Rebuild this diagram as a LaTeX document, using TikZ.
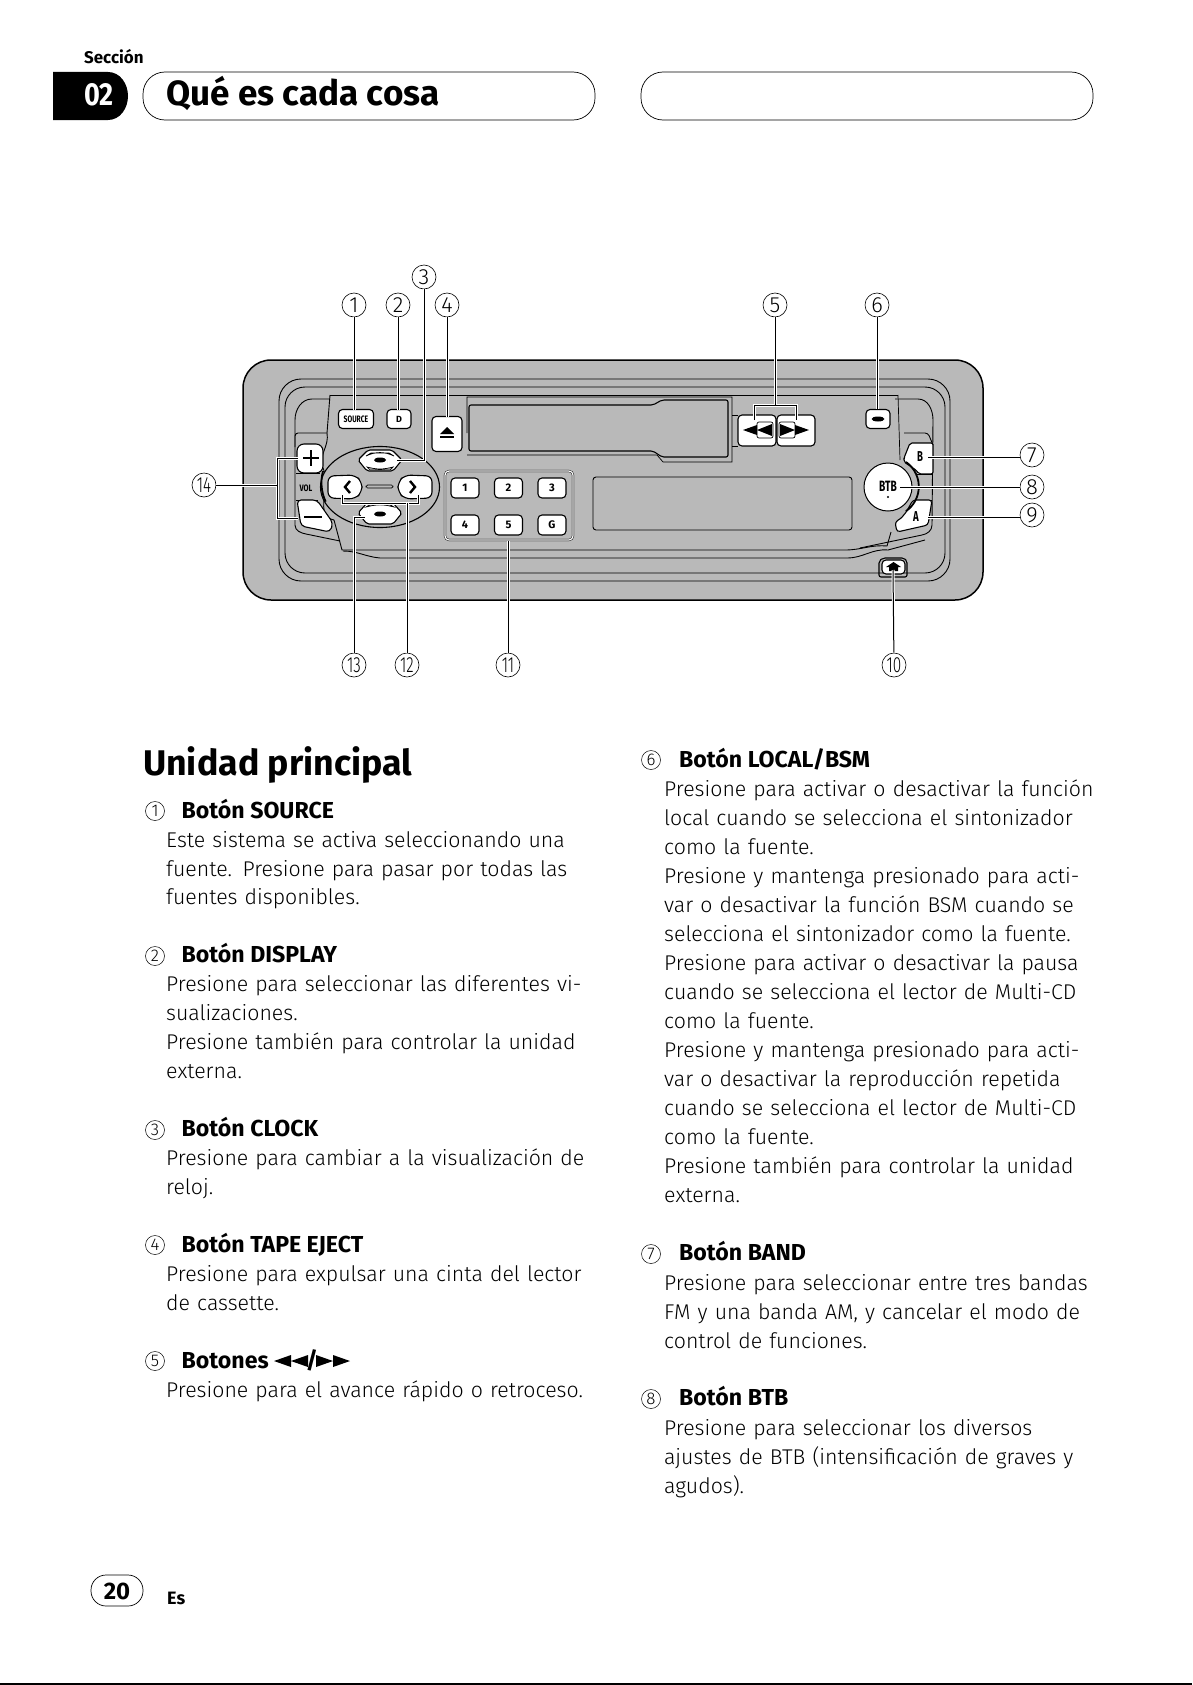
\documentclass[tikz,border=0pt]{standalone}
\usepackage{fontspec}
\setmainfont{Fira Sans Light}[BoldFont=Fira Sans Bold]
\definecolor{panelgray}{gray}{0.725}
\def\nn#1{\scalebox{.7}[1]{#1}}
\tikzset{
	callout/.style={draw, circle, line width=.6bp, minimum size=24bp, inner sep=0pt, fill=white, font=\fontsize{22}{22}\selectfont},
	smallnum/.style={draw, circle, line width=.5bp, minimum size=19bp, inner sep=0pt, font=\fontsize{17}{17}\selectfont},
	keybtn/.style={draw, fill=white, rounded corners=4bp, line width=1.1bp, inner sep=0pt, font=\fontsize{9}{9}\selectfont\bfseries},
	presetbtn/.style={keybtn, minimum width=28bp, minimum height=20bp, font=\fontsize{11}{11}\selectfont\bfseries},
	lead/.style={line width=1bp, preaction={draw=white, line width=3bp}},
	frameline/.style={line width=.9bp},
	hexbtn/.style={draw, fill=white, line width=1.1bp, rounded corners=2bp},
	headtxt/.style={anchor=base west, inner sep=0pt, font=\fontsize{23.2}{26}\selectfont\bfseries},
	bodytxt/.style={anchor=base west, inner sep=0pt, text width=470bp, align=left, font=\fontsize{21.4}{29.1}\selectfont},
	pill/.style={draw, line width=.7bp, rounded corners=22bp}
}
\begin{document}
\begin{tikzpicture}[x=1bp, y=-1bp, node distance=43.5bp]
				\useasboundingbox (0,0) rectangle (1192,1685);
				\node[anchor=base west, inner sep=0pt, font=\fontsize{17}{17}\selectfont\bfseries] (seccion) at (84,64) {Sección};
				\fill (53,72) -- (108,72) to[out=0, in=90] (128,96) to[out=-90, in=0] (108,120) -- (53,120) -- cycle;
				\node[text=white, font=\fontsize{32}{32}\selectfont\bfseries, inner sep=0pt] (secnum) at (99,95) {\scalebox{.85}[1]{02}};
				\draw[pill] (143,72) rectangle (595,120);
				\draw[pill] (641,72) rectangle (1093,120);
				\node[anchor=base west, inner sep=0pt, font=\fontsize{35.2}{34}\selectfont\bfseries] (title) at (166,105) {Qué es cada cosa};
				\draw[line width=1.5bp, fill=panelgray, rounded corners=28bp] (243,360) rectangle (983,600);
				\draw[frameline, rounded corners=22bp] (279,379) rectangle (950,581);
				\draw[frameline, rounded corners=20bp] (285,387) rectangle (945,573);
				\draw[frameline] (330,399) -- (312,399) to[out=180, in=90] (295,420) -- (295,525) to[out=-90, in=170] (306,534) -- (340,541);
				\draw[frameline] (895,399) -- (918,399) to[out=0, in=90] (933,420) -- (932,525) to[out=-90, in=10] (922,535) -- (860,548);
				\draw[line width=.7bp] (330,395) -- (898,395);
				\draw[frameline] (330,395) -- (327,433) to[out=-80, in=100] (322,466) to[out=-60, in=170] (334,520) -- (342,550) -- (845,550) to[out=0, in=175] (887,546) -- (891,532);
				\draw[frameline] (343,551) to[out=0, in=175] (380,558) -- (847,558) to[out=0, in=175] (888,550) -- (925,540);
				\draw[line width=.7bp] (898,395) -- (900,460);
				\draw[frameline, rounded corners=3bp] (295,447) -- (295,433) -- (327,433);
				\draw[frameline, rounded corners=3bp] (904,433) -- (928,433) -- (933,445);
				\draw[hexbtn, rounded corners=7bp] (297,444) rectangle (323,473);
				\draw[line width=2.2bp] (303,458) -- (319,458) (311,450) -- (311,466);
				\node[inner sep=0pt, font=\fontsize{8.5}{9}\selectfont\bfseries] (vol) at (306,488) {\scalebox{.85}[1.1]{VOL}};
				\draw[frameline] (296,473) -- (320,473) (296,500) -- (318,500);
				\draw[hexbtn, rounded corners=4bp] (297,500) -- (317,500) -- (333,523) -- (330,532) -- (301,526) -- cycle;
				\draw[line width=2.2bp] (304,517) -- (322,517);
				\draw[line width=1.1bp, fill=panelgray] (380,487) ellipse (59.5bp and 40.5bp);
				\draw[line width=1.8bp] (323,471) arc[start angle=165, end angle=205, radius=45bp];
				\draw[hexbtn] (358,460) -- (368,450) -- (392,450) -- (402,460) -- (393,471) -- (367,471) -- cycle;
				\draw[line width=.7bp, fill=panelgray] (366,456) to[bend left=25] (394,456) -- (389,453) -- (371,453) -- cycle;
				\fill (380,460) ellipse (6bp and 2.5bp);
				\draw[line width=.7bp, fill=panelgray] (367,467) to[bend right=15] (393,467) -- (390,470) -- (370,470) -- cycle;
				\draw[hexbtn] (358,513) -- (367,503) -- (393,503) -- (402,513) -- (393,524) -- (367,524) -- cycle;
				\draw[line width=.7bp, fill=panelgray] (366,507) to[bend left=15] (394,507) -- (389,504) -- (371,504) -- cycle;
				\fill (380,514) ellipse (6bp and 2.5bp);
				\draw[hexbtn, rounded corners=6bp] (328,476) -- (355,475) -- (362,482) -- (362,492) -- (355,499) -- (328,498) -- cycle;
				\draw[line width=2.4bp] (350,481) -- (345,487) -- (350,493);
				\draw[hexbtn, rounded corners=6bp] (432,476) -- (405,475) -- (398,482) -- (398,492) -- (405,499) -- (432,498) -- cycle;
				\draw[line width=2.4bp] (410,481) -- (415,487) -- (410,493);
				\draw[line width=.7bp, rounded corners=1.5bp] (366,485) rectangle (393,488);
				\node[keybtn, minimum width=35bp, minimum height=19bp, font=\fontsize{8.5}{9}\selectfont\bfseries] (source) at (356,419) {\scalebox{.8}[1.1]{SOURCE}};
				\node[keybtn, minimum width=24bp, minimum height=19bp] (display) at (399,419) {D};
				\node[keybtn, minimum width=30bp, minimum height=35bp] (eject) at (447,434) {};
				\fill (440,434) -- (447,427) -- (454,434) -- cycle;
				\fill (440,436) rectangle (454,438);
				\draw[line width=.7bp] (467,433) -- (467,397) -- (732,397) -- (732,462) -- (663,462) -- (657,455) -- (467,455);
				\draw[line width=1.1bp, rounded corners=2bp] (469,405) -- (653,405) -- (662,400) -- (728,400) -- (728,457) -- (662,457) -- (653,451) -- (469,451) -- cycle;
				\draw[frameline, rounded corners=3bp] (593,477) rectangle (852,530);
				\draw[line width=2.1bp, rounded corners=4bp] (445,471) rectangle (573,540);
				\draw[white, line width=1.2bp, rounded corners=4bp] (445,471) rectangle (573,540);
				\node[presetbtn] (p1) at (465,488) {1};
				\node[presetbtn, right of=p1] (p2) {2};
				\node[presetbtn, right of=p2] (p3) {3};
				\node[presetbtn, below of=p1, node distance=37bp] (p4) {4};
				\node[presetbtn, below of=p2, node distance=37bp] (p5) {5};
				\node[presetbtn, below of=p3, node distance=37bp] (p6) {G};
				\draw[keybtn] (738,415) rectangle (776,446);
				\draw[keybtn] (777,415) rectangle (815,446);
				\draw[line width=.7bp] (732,415) -- (738,415) (732,446) -- (738,446);
				\draw[line width=.7bp, rounded corners=2bp] (757,422) rectangle (773,438);
				\draw[line width=.7bp, rounded corners=2bp] (779,422) rectangle (795,438);
				\fill (743,430) -- (757,425) -- (757,435) -- cycle;
				\fill (757,430) -- (772,424) -- (772,436) -- cycle;
				\fill (809,430) -- (795,425) -- (795,435) -- cycle;
				\fill (795,430) -- (780,424) -- (780,436) -- cycle;
				\node[keybtn, minimum width=24bp, minimum height=19bp] (local) at (878,419) {};
				\fill (878,419) ellipse (6.5bp and 2.5bp);
				\draw[hexbtn, rounded corners=2bp] (933,443) -- (910,443) -- (904,458) -- (904,462) -- (916,470) -- (919,474) -- (933,474) -- cycle;
				\node[inner sep=0pt, font=\fontsize{12}{12}\selectfont\bfseries] (band) at (920,457) {\scalebox{.8}[1.2]{B}};
				\draw[frameline] (916,474) -- (932,474) (916,500) -- (932,500);
				\draw[hexbtn, rounded corners=3bp] (932,500) -- (913,500) to[out=-120, in=30] (895,522) -- (897,532) -- (928,525) -- cycle;
				\node[inner sep=0pt, font=\fontsize{12}{12}\selectfont\bfseries] (audio) at (916,517) {\scalebox{.8}[1.2]{A}};
				\draw[line width=1.8bp] (906,462) arc[start angle=55, end angle=-55, radius=30bp];
				\node[draw, circle, fill=white, line width=1bp, minimum size=48bp, inner sep=0pt] (btb) at (888,487) {};
				\node[inner sep=0pt, font=\fontsize{12}{12}\selectfont\bfseries] (btblabel) at (888,486) {\scalebox{.85}[1.25]{BTB}};
				\fill (888,497) circle (1.2bp);
				\draw[line width=1.1bp, rounded corners=2bp] (879,577) -- (879,561) -- (883,558) -- (904,558) -- (907,561) -- (907,577) -- cycle;
				\node[keybtn, minimum width=23bp, minimum height=14bp] (clockkey) at (893.5,567) {};
				\fill (886,567) -- (893.5,562) -- (901,567) -- (898,567) -- (898,571) -- (889,571) -- (889,567) -- cycle;
				\node[callout] (c1) at (354,305) {1};
				\node[callout] (c2) at (398,305) {2};
				\node[callout] (c3) at (424,277) {3};
				\node[callout] (c4) at (447,305) {4};
				\node[callout] (c5) at (775,305) {5};
				\node[callout] (c6) at (877,305) {6};
				\node[callout] (c7) at (1032,455) {7};
				\node[callout] (c8) at (1032,487) {8};
				\node[callout] (c9) at (1032,515) {9};
				\node[callout] (c10) at (894,665) {\nn{10}};
				\node[callout] (c11) at (508,665) {\nn{11}};
				\node[callout] (c12) at (407,665) {\nn{12}};
				\node[callout] (c13) at (354,665) {\nn{13}};
				\node[callout] (c14) at (204,485) {\nn{14}};
				\coordinate (e3) at (397,460);
				\coordinate (e5l) at (754,420);
				\coordinate (e5r) at (796,420);
				\coordinate (e7) at (928,457);
				\coordinate (e8) at (900,487);
				\coordinate (e9) at (928,517);
				\coordinate (e10) at (893,570);
				\coordinate (e12l) at (342,495);
				\coordinate (e12r) at (418,495);
				\coordinate (e13) at (365,517);
				\coordinate (e14t) at (298,458);
				\coordinate (e14b) at (298,518);
				\draw[lead] (c1) -- (354,410);
				\draw[lead] (c2) -- (398,410);
				\draw[lead] (c3) |- (e3);
				\draw[lead] (c4) -- (447,417);
				\draw[lead] (e5l) -- (754,405) -- (796,405) -- (e5r);
				\draw[lead] (c5) -- (775,405);
				\draw[lead] (c6) -- (877,409);
				\draw[lead] (c7.west |- e7) -- (e7);
				\draw[lead] (c8) -- (e8);
				\draw[lead] (c9.west |- e9) -- (e9);
				\draw[lead] (c10) -- (e10);
				\draw[lead] (c11) -- (508,541);
				\draw[lead] (e12l) -- (342,503) -- (418,503) -- (e12r);
				\draw[lead] (c12) -- (407,503);
				\draw[lead] (c13) |- (e13);
				\draw[lead] (e14t) -- (277,458) -- (277,518) -- (e14b);
				\draw[lead] (c14) -- (277,485);
				\node[anchor=base west, inner sep=0pt, font=\fontsize{35.8}{34}\selectfont\bfseries] (unidad) at (143,775) {Unidad principal};
				\node[smallnum] (n1) at (155,811) {1};
				\node[headtxt] (h1) at (181.5,818) {Botón SOURCE};
				\node[bodytxt] (b1) at (166,847) {Este sistema se activa seleccionando una\\fuente. Presione para pasar por todas las\\fuentes disponibles.};
				\node[smallnum] (n2) at (155,956) {2};
				\node[headtxt] (h2) at (181.5,962.8) {Botón DISPLAY};
				\node[bodytxt] (b2) at (166,991.8) {Presione para seleccionar las diferentes vi-\\sualizaciones.\\Presione también para controlar la unidad\\externa.};
				\node[smallnum] (n3) at (155,1130) {3};
				\node[headtxt] (h3) at (181.5,1136.5) {Botón CLOCK};
				\node[bodytxt] (b3) at (166,1165.5) {Presione para cambiar a la visualización de\\reloj.};
				\node[smallnum] (n4) at (155,1245) {4};
				\node[headtxt] (h4) at (181.5,1252.3) {Botón TAPE EJECT};
				\node[bodytxt] (b4) at (166,1281.3) {Presione para expulsar una cinta del lector\\de cassette.};
				\node[smallnum] (n5) at (155,1361) {5};
				\node[headtxt] (h5) at (181.5,1368.2) {Botones};
				\fill (274,1361) -- (291,1355) -- (291,1367) -- cycle (291,1361) -- (308,1355) -- (308,1367) -- cycle;
				\node[anchor=base, inner sep=0pt, font=\fontsize{23.2}{26}\selectfont\bfseries] (slash) at (312,1368.2) {/};
				\fill (333,1361) -- (316,1355) -- (316,1367) -- cycle (350,1361) -- (333,1355) -- (333,1367) -- cycle;
				\node[bodytxt] (b5) at (166,1397.2) {Presione para el avance rápido o retroceso.};
				\node[smallnum] (n6) at (651,760) {6};
				\node[headtxt] (h6) at (679,767) {Botón LOCAL/BSM};
				\node[bodytxt] (b6) at (664,796.5) {Presione para activar o desactivar la función\\local cuando se selecciona el sintonizador\\como la fuente.\\Presione y mantenga presionado para acti-\\var o desactivar la función BSM cuando se\\selecciona el sintonizador como la fuente.\\Presione para activar o desactivar la pausa\\cuando se selecciona el lector de Multi-CD\\como la fuente.\\Presione y mantenga presionado para acti-\\var o desactivar la reproducción repetida\\cuando se selecciona el lector de Multi-CD\\como la fuente.\\Presione también para controlar la unidad\\externa.};
				\node[smallnum] (n7) at (651,1254) {7};
				\node[headtxt] (h7) at (679,1260.5) {Botón BAND};
				\node[bodytxt] (b7) at (664,1290) {Presione para seleccionar entre tres bandas\\FM y una banda AM, y cancelar el modo de\\control de funciones.};
				\node[smallnum] (n8) at (651,1399) {8};
				\node[headtxt] (h8) at (679,1405.5) {Botón BTB};
				\node[bodytxt] (b8) at (664,1435) {Presione para seleccionar los diversos\\ajustes de BTB (intensificación de graves y\\agudos).};
				\draw[line width=.7bp, rounded corners=15bp] (91,1575) rectangle (143,1606);
				\node[inner sep=0pt, font=\fontsize{24}{24}\selectfont\bfseries] (pageno) at (117,1591) {20};
				\node[anchor=base west, inner sep=0pt, font=\fontsize{18}{18}\selectfont\bfseries] (lang) at (167,1604) {Es};
				\draw[line width=1.5bp] (0,1684) -- (1192,1684);
			\end{tikzpicture}
\end{document}
